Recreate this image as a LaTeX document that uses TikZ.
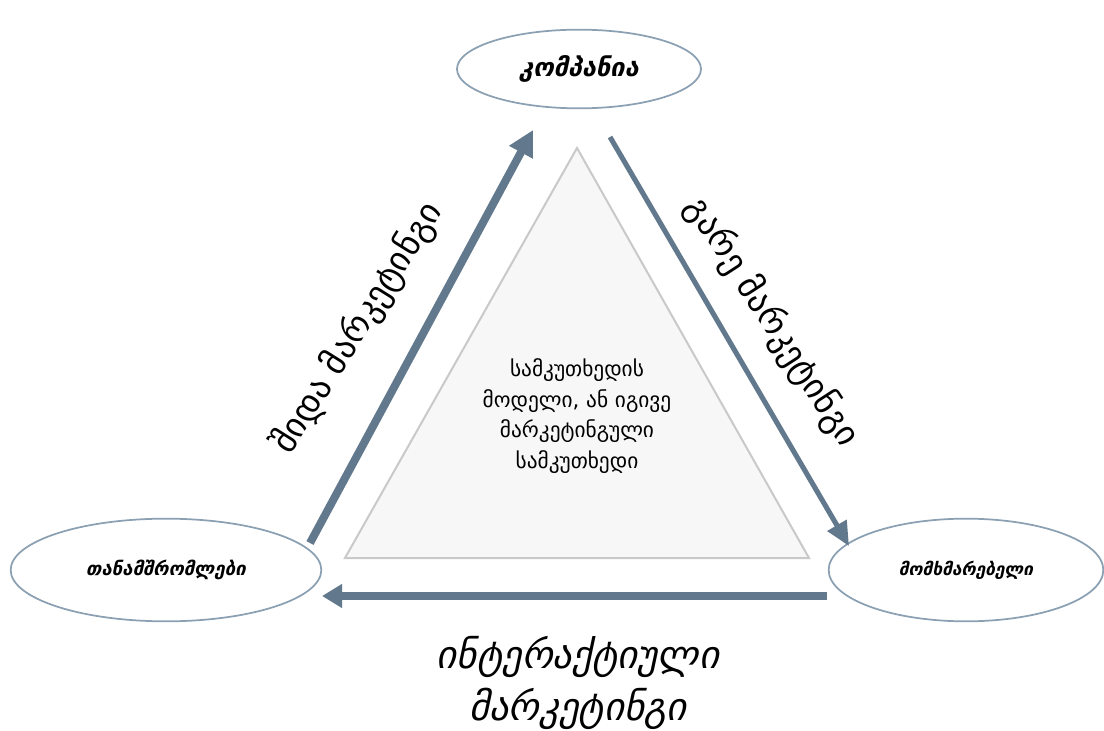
\documentclass[tikz,border=0pt]{standalone}
\usepackage{fontspec}
\setmainfont{DejaVu Sans}
\newfontfamily\geo{DejaVu Sans}
\usetikzlibrary{shapes.geometric,arrows.meta,positioning}
\definecolor{arrcol}{HTML}{62798D}
\definecolor{rimcol}{HTML}{8BA1B3}
\definecolor{tricol}{HTML}{C9C9C9}
\definecolor{trifill}{HTML}{F7F7F7}

\begin{document}
\begin{tikzpicture}[x=0.75pt,y=-0.75pt,
  every node/.style={inner sep=0,font=\geo},
  party/.style={draw=rimcol,ellipse,line width=1.3pt,fill=white},
  flow/.style={draw=arrcol,line width=#1},
  flow/.default=5pt]
\useasboundingbox[fill=white] (0,0) rectangle (1104,731);

% triangle in the middle
\coordinate (tA) at (577,148);
\coordinate (tL) at (345,558);
\coordinate (tR) at (809,558);
\draw[tricol,fill=trifill,line width=1.5pt] (tA) -- (tR) -- (tL) -- cycle;
\node[align=center,font=\geo\fontsize{16}{23}\selectfont] (tri) at (577,416)
  {სამკუთხედის\\მოდელი, ან იგივე\\მარკეტინგული\\სამკუთხედი};

% the three parties
\node[party,minimum width=183pt,minimum height=59pt] (comp) at (579,69)
  {\fontsize{19}{22}\selectfont\itshape\bfseries კომპანია};
\node[party,minimum width=233pt,minimum height=77pt] (staff) at (166,570)
  {\fontsize{14}{16}\selectfont\itshape\bfseries თანამშრომლები};
\node[party,minimum width=206pt,minimum height=77pt] (cust) at (966,570)
  {\fontsize{13}{15}\selectfont\itshape\bfseries მომხმარებელი};

% arrows
\coordinate (s1) at (310,543);
\coordinate (e1) at (533,130);
\coordinate (s2) at (610,137);
\coordinate (e2) at (849,546);
\coordinate (s3) at (827,596);
\coordinate (e3) at (322,596);
\draw[flow=6pt,-{Triangle[length=19pt,width=19pt]}] (s1) -- (e1);
\draw[flow=3.8pt,-{Triangle[length=18pt,width=16pt]}] (s2) -- (e2);
\draw[flow=5.3pt,-{Triangle[length=15pt,width=17pt]}] (s3) -- (e3);

% labels of the arrows
\node[rotate=58,font=\geo\fontsize{26}{30}\selectfont] (inner) at (358,328) {შიდა მარკეტინგი};
\node[rotate=-57,font=\geo\fontsize{26}{30}\selectfont] (outer) at (772,322) {გარე მარკეტინგი};
\node[align=center,font=\geo\fontsize{29}{39}\selectfont\itshape] (inter) at (578,683)
  {ინტერაქტიული\\მარკეტინგი};
\end{tikzpicture}
\end{document}
